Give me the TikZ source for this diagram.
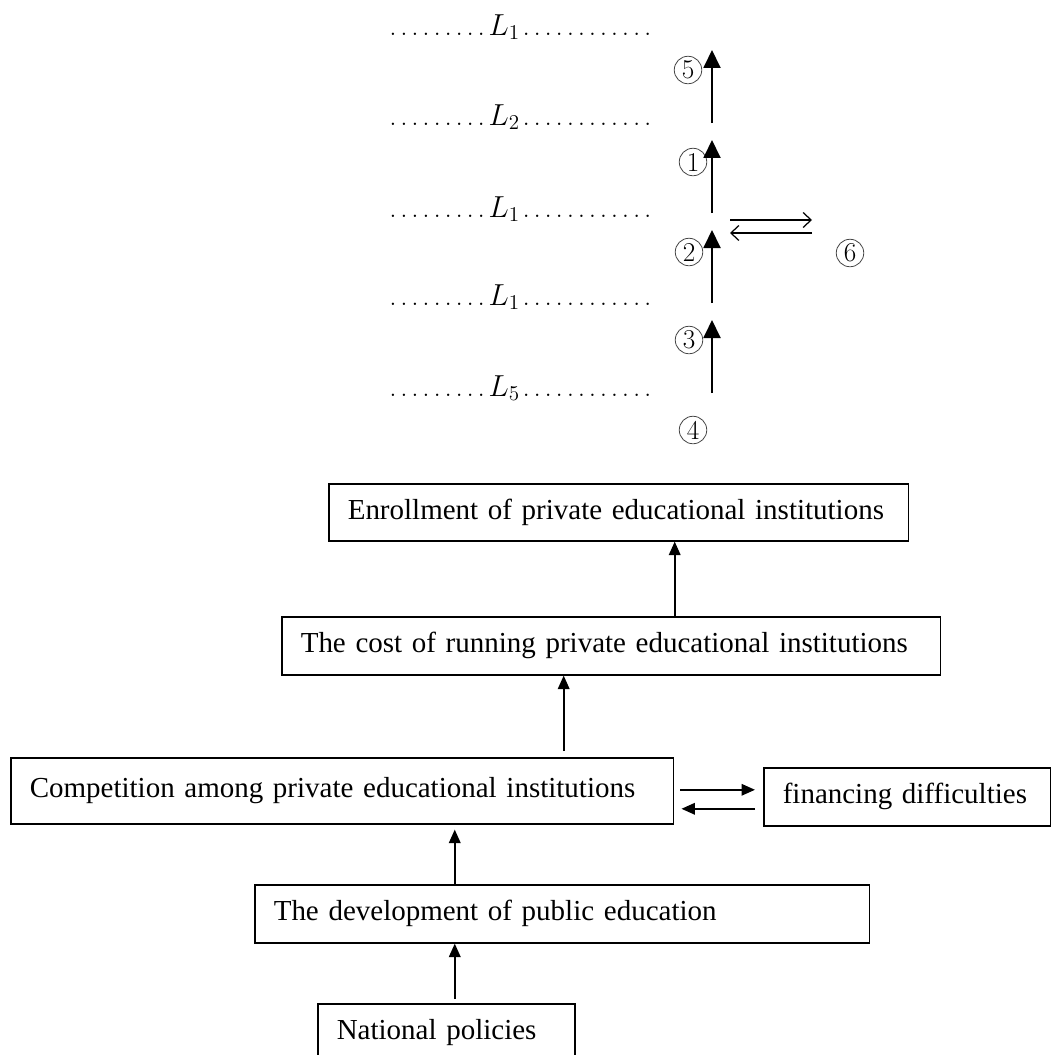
\documentclass[tikz,border=0pt]{standalone}
\usepackage{fontspec}
\usepackage{xcolor}
\usepackage{tikz}
\usetikzlibrary{
  arrows.meta,
  positioning,
  calc
}
\newfontfamily\boxfont{Liberation Serif}
\definecolor{InkBlack}{RGB}{0,0,0}
\definecolor{RingGray}{RGB}{70,70,70}
\newcommand{\lvdot}{.\kern 0.075cm}
\newcommand{\dotrow}[1]{%
  \lvdot\lvdot\lvdot\lvdot\lvdot\lvdot\lvdot\lvdot\lvdot$#1$\kern 0.05cm%
  \lvdot\lvdot\lvdot\lvdot\lvdot\lvdot\lvdot\lvdot\lvdot\lvdot\lvdot.}
\tikzset{
  %%── level rows of the upper sketch ─────────────────────────
  lvrow/.style = {
    anchor = base west, inner sep = 0pt,
    font = \fontsize{16.6}{19}\selectfont
  },
  ringnum/.style = {
    circle, draw = RingGray, line width = 0.45pt,
    minimum size = 0.55cm, inner sep = 0pt,
    font = \fontsize{15.5}{17}\selectfont
  },
  %%── boxes of the lower chart ───────────────────────────────
  factbox/.style = {
    rectangle, draw = InkBlack, line width = 0.9pt,
    anchor = north west, inner xsep = 0.38cm, inner ysep = 0pt,
    align = left, font = \boxfont\fontsize{16.5}{19}\selectfont
  },
  %%── arrows ─────────────────────────────────────────────────
  uarr/.style = {-{Triangle[length=0.36cm, width=0.34cm]}, line width = 1.1pt, color = InkBlack},
  tarr/.style = {-{Straight Barb[length=0.16cm, width=0.3cm]}, line width = 0.7pt, color = InkBlack},
  barr/.style = {-{Triangle[length=0.27cm, width=0.23cm]}, line width = 1.1pt, color = InkBlack},
}

\begin{document}
\begin{tikzpicture}[x = 0.02cm, y = -0.02cm]
  \path[use as bounding box, clip] (0,0) rectangle (1051,1055);

  %% ── upper sketch: levels ─────────────────────────────
  \node[lvrow] (row1) at (389,35)  {\dotrow{L_1}};
  \node[lvrow] (row2) at (389,125) {\dotrow{L_2}};
  \node[lvrow] (row3) at (389,217) {\dotrow{L_1}};
  \node[lvrow] (row4) at (389,305) {\dotrow{L_1}};
  \node[lvrow] (row5) at (389,396) {\dotrow{L_5}};

  %% arrow ends
  \coordinate (s5) at (712,123); \coordinate (e5) at (712,50);
  \coordinate (s1) at (712,213); \coordinate (e1) at (712,140);
  \coordinate (s2) at (712,303); \coordinate (e2) at (712,230);
  \coordinate (s3) at (712,393); \coordinate (e3) at (712,320);
  \coordinate (t1) at (730,220); \coordinate (t2) at (812,220);
  \coordinate (t3) at (812,233); \coordinate (t4) at (730,233);

  %% circled marks
  \node[ringnum] (n5) at (688,70)  {5};
  \node[ringnum] (n1) at (693,162) {1};
  \node[ringnum] (n2) at (689,252) {2};
  \node[ringnum] (n3) at (689,340) {3};
  \node[ringnum] (n4) at (693,430) {4};
  \node[ringnum] (n6) at (850,253) {6};

  \draw[uarr] (s5) -- (e5);
  \draw[uarr] (s1) -- (e1);
  \draw[uarr] (s2) -- (e2);
  \draw[uarr] (s3) -- (e3);
  \draw[tarr] (t1) -- (t2);
  \draw[tarr] (t3) -- (t4);

  %% ── lower chart: boxes ───────────────────────────────
  \node[factbox, text width = 10.84cm, minimum height = 1.14cm] (enroll) at (328,483)
    {Enrollment of private educational institutions};
  \node[factbox, text width = 12.42cm, minimum height = 1.16cm] (cost) at (281,616)
    {The cost of running private educational institutions};
  \node[factbox, text width = 12.50cm, minimum height = 1.32cm] (compete) at (10,757)
    {Competition among private educational institutions};
  \node[factbox, text width = 4.98cm, minimum height = 1.16cm] (finance) at (763,767)
    {financing difficulties};
  \node[factbox, text width = 11.54cm, minimum height = 1.16cm] (develop) at (254,884)
    {The development of public education};
  \node[factbox, text width = 4.38cm, minimum height = 1.16cm] (national) at (317,1003)
    {National policies};

  %% ── lower chart: arrows ──────────────────────────────
  \coordinate (p1) at ([xshift=1.27cm]cost.north);
  \coordinate (p2) at ([xshift=4.43cm, yshift=0.12cm]compete.north);
  \coordinate (p3) at ([xshift=-2.15cm]develop.north);
  \coordinate (p4) at ([xshift=0.17cm, yshift=0.08cm]national.north);
  \coordinate (q1) at ($(compete.east)+(0,18)$);

  \draw[barr] (p1) -- (p1 |- enroll.south);
  \draw[barr] (p2) -- (p2 |- cost.south);
  \draw[barr] (p3) -- ($(p3 |- compete.south)+(0,5)$);
  \draw[barr] (p4) -- (p4 |- develop.south);
  \draw[barr] ($(compete.east)+(6,-1)$) -- ($(compete.east -| finance.west)+(-8,-1)$);
  \draw[barr] ($(q1 -| finance.west)+(-8,0)$) -- ($(q1)+(7,0)$);

\end{tikzpicture}
\end{document}
